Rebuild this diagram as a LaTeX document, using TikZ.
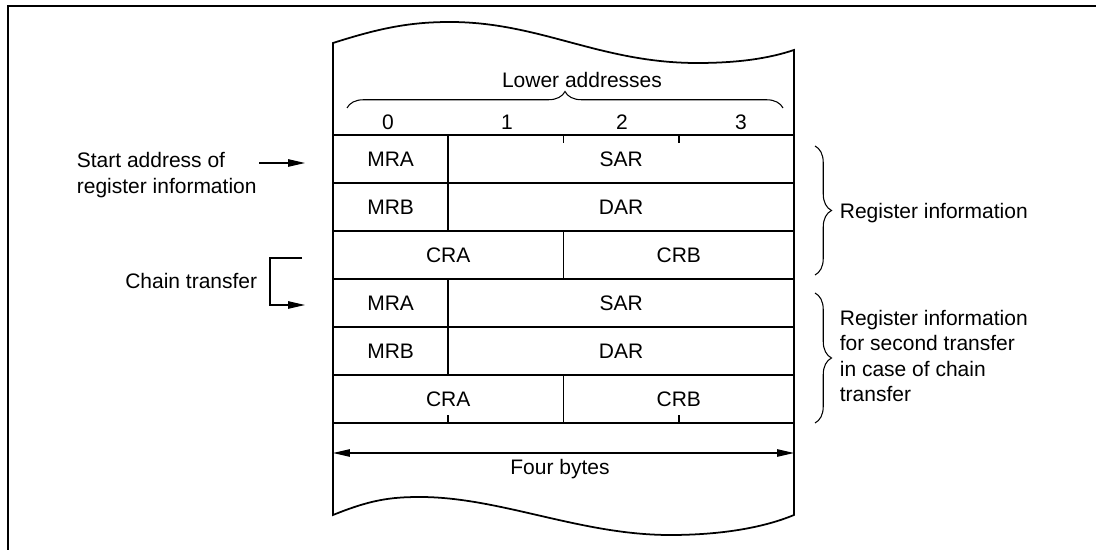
\documentclass[tikz,border=0pt]{standalone}
\usepackage{fontspec}
\setmainfont{Liberation Sans}
\usepackage{tikz}
\usetikzlibrary{arrows.meta,decorations.pathreplacing}

\begin{document}
\begin{tikzpicture}[
    x=0.02cm, y=-0.02cm,
    >={Triangle[length=0.34cm,width=0.15cm]},
    lbl/.style={
        font=\fontsize{11.95}{14.5}\selectfont,
        inner sep=0.05cm, align=left
    },
    cell/.style={
        rectangle, draw=black, line width=1.1pt,
        minimum height=0.96cm, inner sep=0pt, outer sep=0pt,
        font=\fontsize{11.95}{14.5}\selectfont
    },
    byte/.style={cell, minimum width=2.305cm},
    half/.style={cell, minimum width=4.61cm},
    word/.style={cell, minimum width=6.915cm},
    frame/.style={line width=1.2pt},
    wave/.style={line width=1.0pt},
    tick/.style={line width=1.1pt},
    arr/.style={->, line width=0.6pt},
    brc/.style={decorate, decoration={brace, amplitude=0.33cm},
        line width=0.6pt},
]
\useasboundingbox (0,0) rectangle (1096,550);

% ── Frame ──
\draw[frame] (8,550) -- (8,6) -- (1096,6);

% ── Memory strip with torn ends ──
\draw[wave] (333,43) .. controls (380,28) and (410,22) .. (450,22)
    .. controls (540,22) and (600,63) .. (697,63)
    .. controls (740,63) and (770,58) .. (794,50)
    -- (794,515)
    .. controls (770,525) and (730,535) .. (670,535)
    .. controls (580,535) and (500,497) .. (420,497)
    .. controls (390,497) and (370,500) .. (333,515)
    -- cycle;

% ── Byte numbering ──
\node[lbl] (lower) at (582,80) {Lower addresses};
\draw[brc] (347,108) -- (783,108);
\node[lbl] (byte0) at (388,122) {0};
\node[lbl] (byte1) at (507,122) {1};
\node[lbl] (byte2) at (622,122) {2};
\node[lbl] (byte3) at (741,122) {3};

% ── Register information ──
\node[byte] (mraA) at (390.6,159) {MRA};
\node[word] (sarA) at (621.1,159) {SAR};
\node[byte] (mrbA) at (390.6,207) {MRB};
\node[word] (darA) at (621.1,207) {DAR};
\node[half] (craA) at (448.25,255) {CRA};
\node[half] (crbA) at (678.75,255) {CRB};

\draw[tick] ([xshift=2.305cm]sarA.north west) -- ++(0,8);
\draw[tick] ([xshift=4.61cm]sarA.north west) -- ++(0,8);

% ── Register information, second transfer ──
\node[byte] (mraB) at (390.6,303) {MRA};
\node[word] (sarB) at (621.1,303) {SAR};
\node[byte] (mrbB) at (390.6,351) {MRB};
\node[word] (darB) at (621.1,351) {DAR};
\node[half] (craB) at (448.25,399) {CRA};
\node[half] (crbB) at (678.75,399) {CRB};

\draw[tick] (craB.south) -- ++(0,-8);
\draw[tick] (crbB.south) -- ++(0,-8);

% ── Width ──
\coordinate (fbL) at (333,453);
\coordinate (fbR) at (794,453);
\draw[arr, <->] (fbL) -- (fbR);
\node[lbl] (four) at (560,469) {Four bytes};

% ── Left labels ──
\node[lbl, anchor=west] (start) at (74,175)
    {Start address of\\register information};
\coordinate (saTip) at (305,163);
\draw[arr] (start.east |- saTip) -- (saTip);

\node[lbl, anchor=east] (chain) at (260,281) {Chain transfer};
\coordinate (ctTop) at (302,258);
\coordinate (ctTip) at (305,305);
\draw[arr] (ctTop) -- ++(-32,0) |- (ctTip);

% ── Right braces ──
\coordinate (riTop) at (815,146);
\coordinate (riBot) at (815,275);
\draw[brc] (riTop) -- (riBot);
\node[lbl, anchor=west] (reginfo) at (837,213) {Register information};

\coordinate (rsTop) at (815,293);
\coordinate (rsBot) at (815,423);
\draw[brc] (rsTop) -- (rsBot);
\node[lbl, anchor=west] (regsecond) at (837,356)
    {Register information\\for second transfer\\in case of chain\\transfer};

\end{tikzpicture}
\end{document}
